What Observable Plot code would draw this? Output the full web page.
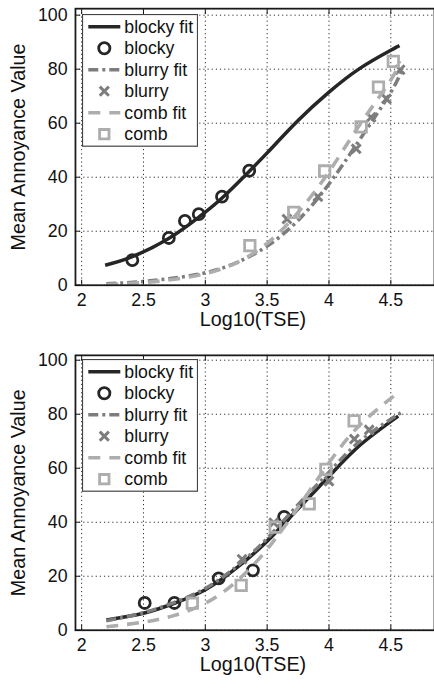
<!DOCTYPE html>
<html><head><meta charset="utf-8">
<script src="https://cdn.jsdelivr.net/npm/d3@7"></script>
<script src="https://cdn.jsdelivr.net/npm/@observablehq/plot@0.6"></script>
<style>
body{margin:0;background:#fff;font-family:"Liberation Sans",Arial,sans-serif;}
.panel{position:relative;width:434px;overflow:hidden;}
.legend{position:absolute;left:81.7px;}
</style></head><body><div id="chart"></div>
<script>
const xTicks = [2, 2.5, 3, 3.5, 4, 4.5];
const yTicks = [0, 20, 40, 60, 80, 100];
const seriesNames = ["blocky fit", "blocky", "blurry fit", "blurry", "comb fit", "comb"];
const xLabel = "Log10(TSE)";
const yLabel = "Mean Annoyance Value";

// ---- top panel ----
const topBlockyFitX = [2.19, 2.4, 2.7, 2.95, 3.14, 3.36, 3.5, 3.75, 4.0, 4.25, 4.5, 4.57];
const topBlockyFitY = [7.4, 10.4, 17.2, 25.3, 32.5, 42.4, 49, 61, 71.5, 80.3, 87, 88.7];
const topBlockyX = [2.41, 2.705, 2.835, 2.947, 3.135, 3.355];
const topBlockyY = [9.3, 17.5, 23.8, 26.3, 32.8, 42.4];
const topBlurryFitX = [2.2, 2.5, 2.75, 3.0, 3.25, 3.5, 3.75, 4.0, 4.25, 4.5, 4.59];
const topBlurryFitY = [0.5, 1.4, 2.7, 4.6, 8.3, 14.5, 24, 37.5, 54, 71.5, 80];
const topBlurryX = [3.66, 3.91, 4.22, 4.34, 4.465, 4.575];
const topBlurryY = [24.5, 32.8, 50.5, 62.2, 69, 79.8];
const topCombFitX = [2.2, 2.5, 2.75, 3.0, 3.25, 3.5, 3.75, 4.0, 4.25, 4.5, 4.57];
const topCombFitY = [0.3, 1.0, 2.2, 4.3, 8.3, 15.5, 27, 42, 59.5, 76, 83];
const topCombX = [3.36, 3.715, 3.965, 4.26, 4.40, 4.52];
const topCombY = [14.7, 27, 42.3, 58.6, 73.4, 82.9];

// ---- bottom panel ----
const botBlockyFitX = [2.2, 2.5, 2.75, 3.0, 3.25, 3.5, 3.75, 4.0, 4.25, 4.56];
const botBlockyFitY = [3.8, 6.3, 10, 15, 23, 33, 45, 57, 68.5, 79.3];
const botBlockyX = [2.51, 2.75, 3.108, 3.385, 3.637];
const botBlockyY = [10.1, 10.1, 19.2, 22.2, 42];
const botBlurryFitX = [2.2, 2.5, 2.75, 3.0, 3.25, 3.5, 3.75, 4.0, 4.25, 4.58];
const botBlurryFitY = [3.5, 6.5, 10.3, 15.5, 23.5, 34, 46.5, 58.5, 70, 80.5];
const botBlurryX = [3.297, 3.553, 4.0, 4.205, 4.325];
const botBlurryY = [26.3, 39.8, 55.2, 70.8, 74.2];
const botCombFitX = [2.2, 2.5, 2.75, 3.0, 3.25, 3.5, 3.75, 4.0, 4.25, 4.57];
const botCombFitY = [1.3, 3, 5.5, 10, 18, 30, 45.5, 62, 76, 88.4];
const botCombX = [2.895, 3.29, 3.565, 3.84, 3.975, 4.203];
const botCombY = [10, 16.6, 38.2, 46.8, 59.6, 77.5];

const C_BLOCKY = "#262626", C_BLURRY = "#7d7d7d", C_COMB = "#adadad";
const DASH_BLURRY = "10,4,3,4", DASH_COMB = "12,9";
const FONT = "Liberation Sans, Arial, sans-serif";

const rows = (xs, ys) => xs.map((x, i) => ({x, y: ys[i]}));

function panel(d, {height, marginTop, marginBottom, yMax, legendTop}) {
  const lineOpts = (stroke, dash) => ({x: "x", y: "y", stroke, strokeWidth: 3.6, strokeDasharray: dash, curve: "natural", strokeLinecap: "butt"});
  const plot = Plot.plot({
    width: 440, height, marginLeft: 76, marginRight: 0, marginTop, marginBottom,
    style: {fontFamily: FONT, background: "white", overflow: "visible"},
    x: {domain: [1.95, 4.853]},
    y: {domain: [0, yMax]},
    marks: [
      Plot.gridX(xTicks, {stroke: "#000", strokeOpacity: 0.85, strokeDasharray: "1.2,3"}),
      Plot.gridY(yTicks, {stroke: "#000", strokeOpacity: 0.85, strokeDasharray: "1.2,3"}),
      Plot.line(rows(d.blockyFitX, d.blockyFitY), lineOpts(C_BLOCKY)),
      Plot.dot(rows(d.blockyX, d.blockyY), {x: "x", y: "y", r: 5.6, stroke: C_BLOCKY, strokeWidth: 2.8, fill: "none"}),
      Plot.line(rows(d.blurryFitX, d.blurryFitY), lineOpts(C_BLURRY, DASH_BLURRY)),
      Plot.dot(rows(d.blurryX, d.blurryY), {x: "x", y: "y", symbol: "times", r: 4.2, stroke: C_BLURRY, strokeWidth: 3}),
      Plot.line(rows(d.combFitX, d.combFitY), lineOpts(C_COMB, DASH_COMB)),
      Plot.dot(rows(d.combX, d.combY), {x: "x", y: "y", symbol: "square", r: 6, stroke: C_COMB, strokeWidth: 2.8, fill: "none"}),
      Plot.frame({stroke: "#1a1a1a", strokeWidth: 1.8}),
      Plot.axisX({ticks: xTicks, anchor: "bottom", tickSize: -5, fill: "none", stroke: "#111", label: null}),
      Plot.axisX({ticks: xTicks, anchor: "top", tickSize: -5, fill: "none", stroke: "#111", label: null}),
      Plot.axisY({ticks: yTicks, anchor: "left", tickSize: -5, fill: "none", stroke: "#111", label: null}),
      Plot.axisX({ticks: xTicks, anchor: "bottom", tickSize: 0, tickPadding: 8, fontSize: 18, fill: "#111", label: null, tickFormat: v => String(v)}),
      Plot.axisY({ticks: yTicks, anchor: "left", tickSize: 0, tickPadding: 8, fontSize: 18, fill: "#111", label: null, tickFormat: v => String(v)}),
      Plot.text([xLabel], {text: t => t, frameAnchor: "bottom", dy: 41.5, dx: -2, fontSize: 20, fill: "#111", textAnchor: "middle"}),
      Plot.text([yLabel], {text: t => t, frameAnchor: "left", rotate: -90, dx: -58, fontSize: 20, fill: "#111", textAnchor: "middle"})
    ]
  });
  const wrap = document.createElement("div");
  wrap.className = "panel";
  wrap.style.height = height + "px";
  wrap.appendChild(plot);

  // legend (inside the axes, top-left)
  const W = 115, H = 131.7;
  const svg = d3.create("svg").attr("width", W + 1).attr("height", H + 1)
    .attr("class", "legend").style("top", legendTop + "px").style("font-family", FONT);
  svg.append("rect").attr("x", 0.5).attr("y", 0.5).attr("width", W).attr("height", H)
    .attr("fill", "white").attr("stroke", "#444").attr("stroke-width", 1.2);
  const rowY = i => 12.7 + i * 21.5;
  const styles = [
    {type: "line", stroke: C_BLOCKY},
    {type: "circle", stroke: C_BLOCKY},
    {type: "line", stroke: C_BLURRY, dash: DASH_BLURRY},
    {type: "times", stroke: C_BLURRY},
    {type: "line", stroke: C_COMB, dash: DASH_COMB},
    {type: "square", stroke: C_COMB}
  ];
  seriesNames.forEach((name, i) => {
    const s = styles[i], y = rowY(i);
    if (s.type === "line") {
      svg.append("line").attr("x1", 6.3).attr("x2", 38.3).attr("y1", y).attr("y2", y)
        .attr("stroke", s.stroke).attr("stroke-width", 3.6).attr("stroke-dasharray", s.dash || null);
    } else if (s.type === "circle") {
      svg.append("circle").attr("cx", 22.3).attr("cy", y).attr("r", 5.6)
        .attr("fill", "none").attr("stroke", s.stroke).attr("stroke-width", 2.8);
    } else {
      const sym = s.type === "times" ? d3.symbolTimes : d3.symbolSquare2;
      const r = s.type === "times" ? 4.2 : 6;
      svg.append("path").attr("transform", `translate(22.3,${y})`)
        .attr("d", d3.symbol(sym, Math.PI * r * r)())
        .attr("fill", "none").attr("stroke", s.stroke).attr("stroke-width", s.type === "times" ? 3 : 2.8);
    }
    svg.append("text").attr("x", 42.3).attr("y", y).attr("dy", "0.35em")
      .attr("font-size", 17.7).attr("fill", "#111").text(name);
  });
  wrap.appendChild(svg.node());
  return wrap;
}

const chart = document.getElementById("chart");
chart.appendChild(panel({
  blockyFitX: topBlockyFitX, blockyFitY: topBlockyFitY, blockyX: topBlockyX, blockyY: topBlockyY,
  blurryFitX: topBlurryFitX, blurryFitY: topBlurryFitY, blurryX: topBlurryX, blurryY: topBlurryY,
  combFitX: topCombFitX, combFitY: topCombFitY, combX: topCombX, combY: topCombY
}, {height: 345, marginTop: 8.3, marginBottom: 56.3, yMax: 102.4, legendTop: 14}));
chart.appendChild(panel({
  blockyFitX: botBlockyFitX, blockyFitY: botBlockyFitY, blockyX: botBlockyX, blockyY: botBlockyY,
  blurryFitX: botBlurryFitX, blurryFitY: botBlurryFitY, blurryX: botBlurryX, blurryY: botBlurryY,
  combFitX: botCombFitX, combFitY: botCombFitY, combX: botCombX, combY: botCombY
}, {height: 344, marginTop: 10, marginBottom: 55.3, yMax: 101.8, legendTop: 14.3}));
</script></body></html>
